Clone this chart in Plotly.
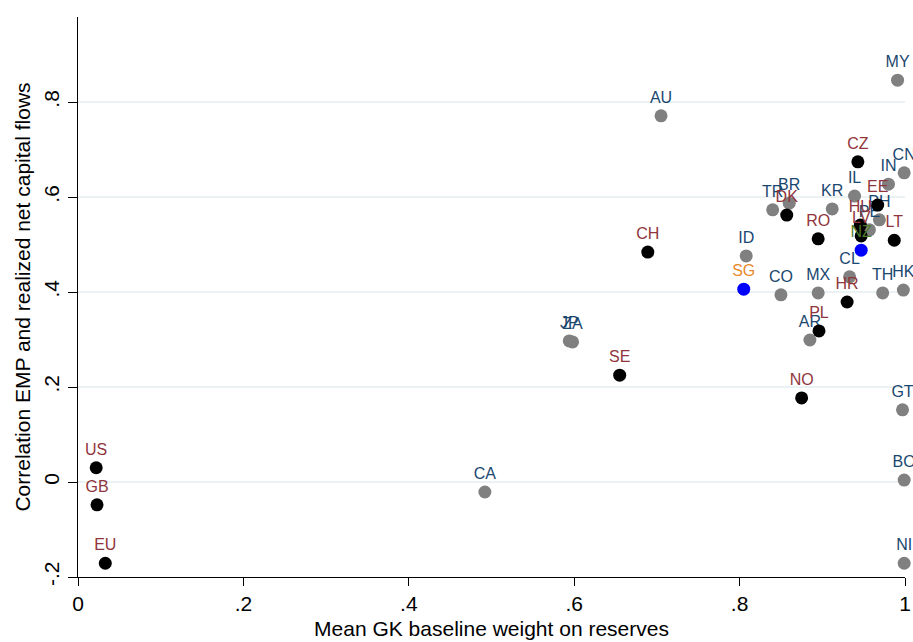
import plotly.graph_objects as go

# Black markers (red labels)
blk_lab = ["US", "GB", "EU", "SE", "CH", "NO", "PL", "HR", "RO", "DK", "CZ", "EE", "HU", "LV", "LT"]
blk_x = [0.022, 0.023, 0.033, 0.655, 0.689, 0.875, 0.896, 0.930, 0.895, 0.857, 0.943, 0.967, 0.946, 0.947, 0.987]
blk_y = [0.030, -0.048, -0.171, 0.225, 0.484, 0.177, 0.318, 0.379, 0.512, 0.562, 0.674, 0.583, 0.541, 0.518, 0.509]

# Gray markers (blue labels)
gry_lab = ["CA", "JP", "ZA", "AU", "MY", "ID", "CO", "MX", "AR", "CL", "TH", "HK", "GT", "BO", "NI",
           "TR", "BR", "KR", "IL", "IN", "CN", "PH", "PE"]
gry_x = [0.492, 0.594, 0.598, 0.705, 0.991, 0.808, 0.850, 0.895, 0.885, 0.933, 0.973, 0.998, 0.997, 0.999, 0.999,
         0.840, 0.860, 0.912, 0.939, 0.980, 0.999, 0.969, 0.957]
gry_y = [-0.021, 0.297, 0.295, 0.771, 0.846, 0.476, 0.394, 0.398, 0.299, 0.432, 0.398, 0.404, 0.152, 0.004, -0.171,
         0.573, 0.587, 0.575, 0.602, 0.627, 0.651, 0.552, 0.531]

# Blue markers
sg_lab, sg_x, sg_y = ["SG"], [0.805], [0.406]
nz_lab, nz_x, nz_y = ["NZ"], [0.947], [0.488]

y_ticks = [-0.2, 0, 0.2, 0.4, 0.6, 0.8]
y_ticktext = ["-.2", "0", ".2", ".4", ".6", ".8"]
x_ticks = [0, 0.2, 0.4, 0.6, 0.8, 1]
x_ticktext = ["0", ".2", ".4", ".6", ".8", "1"]

FONT = "Liberation Sans, Arial, sans-serif"
RED = "#90353b"
BLUE_LAB = "#1a476f"
ORANGE = "#e8892b"
GREEN = "#4e7a2a"

fig = go.Figure()

def add(xs, ys, labs, mcolor, tcolor):
    fig.add_trace(go.Scatter(
        x=xs, y=ys, text=labs, mode="markers+text",
        marker=dict(size=13, color=mcolor, line=dict(width=0)),
        textposition="top center",
        textfont=dict(family=FONT, size=16, color=tcolor),
        cliponaxis=False, showlegend=False, hoverinfo="text"))

add(gry_x, gry_y, gry_lab, "#808080", BLUE_LAB)
add(blk_x, blk_y, blk_lab, "#000000", RED)
add(sg_x, sg_y, sg_lab, "#0000ff", ORANGE)
add(nz_x, nz_y, nz_lab, "#0000ff", GREEN)

fig.update_layout(
    width=913, height=642,
    margin=dict(l=78, r=8, t=17, b=65, autoexpand=False),
    paper_bgcolor="white", plot_bgcolor="white",
    font=dict(family=FONT, size=21, color="black"),
    xaxis=dict(range=[0, 1.0], tickvals=x_ticks, ticktext=x_ticktext, automargin=False,
               showline=True, linecolor="black", linewidth=1.3,
               ticks="outside", ticklen=8, tickcolor="black", tickwidth=1.3,
               showgrid=False, zeroline=False,
               tickfont=dict(size=21),
               title=dict(text="Mean GK baseline weight on reserves", font=dict(size=21), standoff=6)),
    yaxis=dict(range=[-0.2, 0.979], tickvals=y_ticks, ticktext=y_ticktext, automargin=False,
               tickangle=-90,
               showline=True, linecolor="black", linewidth=1.3,
               ticks="outside", ticklen=9, tickcolor="black", tickwidth=1.3,
               showgrid=True, gridcolor="#eaf2f3", gridwidth=1.5, zeroline=False,
               tickfont=dict(size=21),
               title=dict(text="Correlation EMP and realized net capital flows", font=dict(size=21), standoff=4)),
)

fig.write_html("out.html")
